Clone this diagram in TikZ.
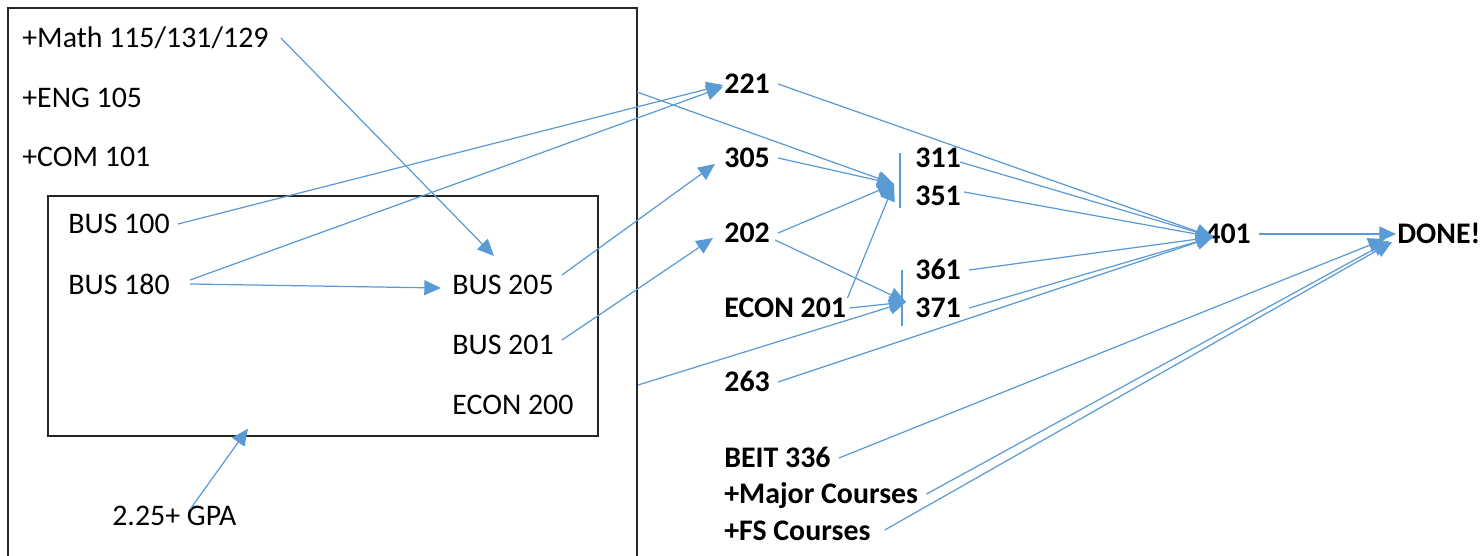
\documentclass[tikz,border=0pt]{standalone}
\usepackage{fontspec}
\setmainfont{Carlito}
\usepackage{xcolor}
\usepackage{tikz}
\usetikzlibrary{arrows.meta}
\definecolor{linkblue}{RGB}{91,155,213}

\begin{document}
\begin{tikzpicture}[x=0.02cm, y=-0.02cm,
	crs/.style={anchor=west, inner xsep=0.16cm, inner ysep=0pt, text height=11pt, text depth=0pt, font=\fontsize{17}{20}\selectfont},
	req/.style={crs, font=\fontsize{17}{20}\selectfont\bfseries},
	frame/.style={draw=black!85, line width=0.7pt},
	link/.style={draw=linkblue, line width=0.7pt, -{Triangle[length=9.5pt, width=8.5pt]}},
	bar/.style={draw=linkblue, line width=0.7pt}]
	\useasboundingbox (0,0) rectangle (1483,555);
	% boxes
	\node[frame, minimum width=12.58cm, minimum height=12cm] (outer) at (322.5,308) {};
	\node[frame, minimum width=11cm, minimum height=4.8cm] (inner) at (323,316) {};
	% first year
	\node[crs] (math) at (14,38) {+Math 115/131/129};
	\node[crs] (eng) at (14,98) {+ENG 105};
	\node[crs] (com) at (14,157) {+COM 101};
	\node[crs] (bus100) at (60,224) {BUS 100};
	\node[crs] (bus180) at (60,285) {BUS 180};
	\node[crs] (bus205) at (444,285) {BUS 205};
	\node[crs] (bus201) at (444,345) {BUS 201};
	\node[crs] (econ200) at (444,405) {ECON 200};
	\node[crs] (gpa) at (104,516) {2.25+ GPA};
	% upper division
	\node[req] (c221) at (716,84) {221};
	\node[req] (c305) at (716,158) {305};
	\node[req] (c202) at (716,233) {202};
	\node[req] (econ201) at (716,308) {ECON 201};
	\node[req] (c263) at (716,382) {263};
	\node[req] (beit) at (716,458) {BEIT 336};
	\node[req] (major) at (716,494) {+Major Courses};
	\node[req] (fs) at (716,531) {+FS Courses};
	\node[req] (c311) at (907,158) {311};
	\node[req] (c351) at (907,196) {351};
	\node[req] (c361) at (907,270) {361};
	\node[req] (c371) at (907,308) {371};
	\node[req] (c401) at (1197,234) {401};
	\node[req] (done) at (1389,234) {DONE!};
	% brackets
	\draw[bar] (900,153) -- (900,208);
	\draw[bar] (902,270) -- (902,326);
	\coordinate (exit1) at (637,92);
	\coordinate (exit2) at (638,385);
	\coordinate (in1) at (894,184);
	\coordinate (in2) at (906,302);
	\coordinate (in401) at (1213,237);
	% connectors
	\draw[link] ([shift={(4,0)}]math.east) -- ([shift={(-9,-19)}]bus205.north);
	\draw[link] (bus100.east) -- ([shift={(7,1)}]c221.west);
	\draw[link] ([shift={(12,-5)}]bus180.east) -- ([shift={(7,3)}]c221.west);
	\draw[link] ([shift={(12,-1)}]bus180.east) -- ([shift={(-3,3)}]bus205.west);
	\draw[link] ([shift={(0,-10)}]bus205.east) -- ([shift={(-1,6)}]c305.west);
	\draw[link] ([shift={(0,-5)}]bus201.east) -- ([shift={(-3,5)}]c202.west);
	\draw[link] ([shift={(16,3)}]gpa.north) -- ([shift={(-75,-8)}]inner.south);
	\draw[link] (exit1) -- (in1);
	\draw[link] (c305.east) -- (in1);
	\draw[link] (c202.east) -- (in1);
	\draw[link] ([shift={(-7,-10)}]econ201.east) -- (in1);
	\draw[link] ([shift={(-3,7)}]c202.east) -- (in2);
	\draw[link] ([shift={(-5,0)}]econ201.east) -- (in2);
	\draw[link] (exit2) -- (in2);
	\draw[link] (c221.east) -- (in401);
	\draw[link] ([shift={(-9,4)}]c311.east) -- (in401);
	\draw[link] ([shift={(-5,-4)}]c351.east) -- (in401);
	\draw[link] (c361.east) -- (in401);
	\draw[link] (c371.east) -- (in401);
	\draw[link] (c263.east) -- (in401);
	\draw[link] (c401.east) -- ([shift={(7,0)}]done.west);
	\draw[link] (beit.east) -- ([shift={(-4,5)}]done.west);
	\draw[link] (major.east) -- ([shift={(0,7)}]done.west);
	\draw[link] ([shift={(6,-1)}]fs.east) -- ([shift={(3,8)}]done.west);
\end{tikzpicture}
\end{document}
